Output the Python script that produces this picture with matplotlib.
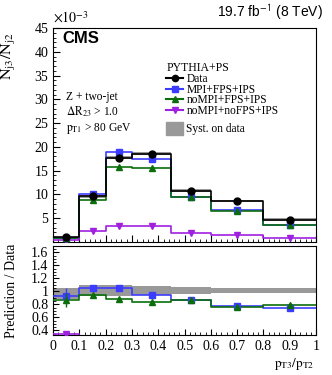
import matplotlib
matplotlib.use('Agg')
import matplotlib.pyplot as plt
from matplotlib.lines import Line2D
from matplotlib.patches import Patch
from matplotlib.ticker import MultipleLocator
import numpy as np

plt.rcParams['font.family'] = 'Liberation Serif'
plt.rcParams['mathtext.fontset'] = 'stix'

# bin edges in pT3/pT2
edges = [0.0, 0.1, 0.2, 0.3, 0.45, 0.6, 0.8, 1.0]

# N_j3/N_j2 (x 1e-3)
data = [0.95, 9.6, 17.7, 18.6, 10.8, 8.6, 4.7]
data_syst = [0.15, 0.3, 0.35, 0.35, 0.3, 0.3, 0.25]
mpi_fps_ips = [0.8, 10.1, 18.9, 17.5, 9.5, 6.7, 3.5]
nompi_fps_ips = [0.8, 8.9, 15.8, 15.6, 9.4, 6.5, 3.6]
nompi_nofps_ips = [0.3, 2.3, 3.3, 3.3, 1.9, 1.5, 0.85]

# systematic band on data, ratio panel
syst_lo = [0.88, 0.93, 0.93, 0.95, 0.955, 0.97, 0.97]
syst_hi = [1.055, 1.095, 1.095, 1.08, 1.065, 1.045, 1.045]

# prediction / data
r_mpi = [0.93, 1.05, 1.06, 0.94, 0.87, 0.78, 0.75]
r_mpi_err = [0.13, 0.02, 0.02, 0.02, 0.02, 0.02, 0.02]
r_nompi = [0.87, 0.94, 0.88, 0.84, 0.87, 0.76, 0.79]
r_nompi_err = [0.11, 0.02, 0.02, 0.02, 0.02, 0.02, 0.02]
r_nofps = [0.35, 0.24, 0.19, 0.18, 0.18, 0.17, 0.18]

blue = '#3c3cff'
green = '#0b6e0b'
purple = '#a020e0'
grey = '#999999'

edges = np.array(edges)
centers = 0.5 * (edges[:-1] + edges[1:])


def ext(v):
    v = np.asarray(v, dtype=float)
    return np.append(v, v[-1])


def steps(ax, vals, color, lw=1.2, z=3):
    ax.step(edges, ext(vals), where='post', color=color, lw=lw, zorder=z)


fig = plt.figure(figsize=(3.32, 3.75), dpi=100)
ax = fig.add_axes([0.16, 0.355, 0.792, 0.57])
axr = fig.add_axes([0.16, 0.107, 0.792, 0.237])

# ---- upper panel
d = np.array(data)
s = np.array(data_syst)
ax.fill_between(edges, ext(d - s), ext(d + s), step='post', color=grey, lw=0, zorder=1)
steps(ax, data, 'black', z=5)
steps(ax, mpi_fps_ips, blue)
steps(ax, nompi_fps_ips, green)
steps(ax, nompi_nofps_ips, purple)
ax.plot(centers, mpi_fps_ips, 's', color=blue, ms=4.5, zorder=6)
ax.plot(centers, nompi_fps_ips, '^', color=green, ms=4.5, zorder=7)
ax.plot(centers, nompi_nofps_ips, 'v', color=purple, ms=4.5, zorder=6)
ax.plot(centers, data, 'o', color='black', ms=5, zorder=8)

ax.set_xlim(0, 1)
ax.set_ylim(0, 45)
ax.yaxis.set_minor_locator(MultipleLocator(1))
ax.xaxis.set_major_locator(MultipleLocator(0.1))
ax.xaxis.set_minor_locator(MultipleLocator(0.02))
ax.set_yticks([5, 10, 15, 20, 25, 30, 35, 40, 45])
ax.tick_params(axis='x', labelbottom=False)
ax.tick_params(which='both', direction='in', labelsize=10)
ax.tick_params(which='major', length=5)
ax.tick_params(which='minor', length=2.5)
ax.set_ylabel(r'$\mathrm{N_{j3}/N_{j2}}$', fontsize=11.5)
ax.yaxis.set_label_coords(-0.135, 0.87)

fig.text(0.16, 0.932, r'$\times 10^{-3}$', fontsize=10, ha='left', va='bottom')
fig.text(0.972, 0.94, r'19.7 fb$^{\mathsf{-1}}$ (8 TeV)', fontsize=10,
         family='Liberation Sans', ha='right', va='bottom')
ax.text(0.035, 0.985, 'CMS', transform=ax.transAxes, fontsize=12,
        family='Liberation Sans', weight='bold', ha='left', va='top')
ax.text(0.05, 0.663, 'Z + two-jet', transform=ax.transAxes, fontsize=8.3)
ax.text(0.05, 0.593, r'$\Delta\mathrm{R_{23}}$ > 1.0', transform=ax.transAxes, fontsize=8.3)
ax.text(0.05, 0.518, r'$\mathrm{p_{T1}}$ > 80 GeV', transform=ax.transAxes, fontsize=8.3)

handles = [
    Line2D([], [], color='black', marker='o', ms=4.5),
    Line2D([], [], color=blue, marker='s', ms=4.5),
    Line2D([], [], color=green, marker='^', ms=4.5),
    Line2D([], [], color=purple, marker='v', ms=4.5),
]
labels = ['Data', 'MPI+FPS+IPS', 'noMPI+FPS+IPS', 'noMPI+noFPS+IPS']
leg = ax.legend(handles, labels, title='PYTHIA+PS', loc='upper left',
                bbox_to_anchor=(0.43, 0.84), frameon=False, fontsize=8.3,
                title_fontsize=8.5, handlelength=1.5, handleheight=0.7,
                handletextpad=0.25, labelspacing=-0.12, borderaxespad=0,
                borderpad=0)
leg._legend_box.align = 'left'
ax.add_artist(leg)
ax.legend([Patch(color=grey)], ['Syst. on data'], loc='upper left',
          bbox_to_anchor=(0.43, 0.56), frameon=False, fontsize=8.3,
          handlelength=1.5, handleheight=1.3, handletextpad=0.25,
          borderaxespad=0, borderpad=0)

# ---- ratio panel
axr.fill_between(edges, ext(syst_lo), ext(syst_hi), step='post', color=grey, lw=0, zorder=1)
steps(axr, r_mpi, blue)
steps(axr, r_nompi, green)
steps(axr, r_nofps, purple)
axr.errorbar(centers, r_mpi, yerr=r_mpi_err, fmt='s', color=blue, ms=4.5, lw=1, zorder=6)
axr.errorbar(centers, r_nompi, yerr=r_nompi_err, fmt='^', color=green, ms=4.5, lw=1, zorder=7)
axr.plot(centers, r_nofps, 'v', color=purple, ms=4.5, zorder=6)

axr.set_xlim(0, 1)
axr.set_ylim(0.33, 1.7)
axr.yaxis.set_minor_locator(MultipleLocator(0.05))
axr.set_yticks([0.4, 0.6, 0.8, 1.0, 1.2, 1.4, 1.6])
axr.set_yticklabels(['0.4', '0.6', '0.8', '1', '1.2', '1.4', '1.6'])
axr.xaxis.set_minor_locator(MultipleLocator(0.02))
axr.set_xticks(np.arange(0, 1.01, 0.1))
axr.set_xticklabels(['0', '0.1', '0.2', '0.3', '0.4', '0.5', '0.6', '0.7', '0.8', '0.9', '1'])
axr.tick_params(which='both', direction='in', labelsize=10)
axr.tick_params(which='major', length=4)
axr.tick_params(which='minor', length=2)
axr.set_ylabel('Prediction / Data', fontsize=10)
axr.yaxis.set_label_coords(-0.135, 0.5)
axr.set_xlabel(r'$\mathrm{p_{T3}/p_{T2}}$', fontsize=9.5)
axr.xaxis.set_label_coords(0.915, -0.24)

fig.savefig('out.png', dpi=100)
